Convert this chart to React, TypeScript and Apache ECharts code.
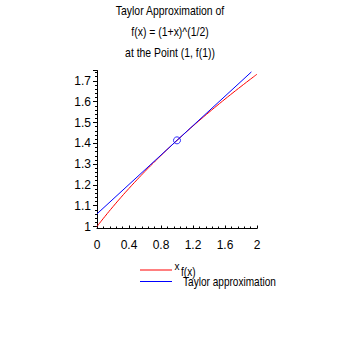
import React, { useEffect, useRef } from "react";
import * as echarts from "echarts";

const titleLines = ["Taylor Approximation of", "f(x) = (1+x)^(1/2)", "at the Point (1, f(1))"];
const curveX = [0, 0.1, 0.2, 0.3, 0.4, 0.5, 0.6, 0.7, 0.8, 0.9, 1, 1.1, 1.2, 1.3, 1.4, 1.5, 1.6, 1.7, 1.8, 1.9, 2];
const curveY = [1, 1.0488, 1.0954, 1.1402, 1.1832, 1.2247, 1.2649, 1.3038, 1.3416, 1.3784, 1.4142, 1.4491, 1.4832, 1.5166, 1.5492, 1.5811, 1.6125, 1.6432, 1.6733, 1.7029, 1.7321];
const tangentX = [0, 1, 1.93];
const tangentY = [1.0607, 1.4142, 1.7431];
const pointX = [1];
const pointY = [1.4142];
const legendNames = ["f(x)", "Taylor approximation"];
const xAxisName = "x";

const FONT = "'Liberation Sans', Arial, sans-serif";

export default function App() {
  const ref = useRef<HTMLDivElement>(null);
  useEffect(() => {
    if (!ref.current) return;
    const chart = echarts.init(ref.current, null, { renderer: "svg" });
    chart.setOption({
      animation: false,
      backgroundColor: "#ffffff",
      grid: { left: 97, right: 82, top: 70.5, bottom: 112.5 },
      xAxis: {
        type: "value",
        min: 0,
        max: 2,
        interval: 0.4,
        offset: 2,
        name: xAxisName,
        nameLocation: "middle",
        nameGap: 33,
        nameTextStyle: { color: "#000", fontFamily: FONT, fontSize: 10 },
        axisLine: { show: true, onZero: false, lineStyle: { color: "#000", width: 1 } },
        axisTick: { show: true, inside: true, length: 3, lineStyle: { color: "#000" } },
        minorTick: { show: true, splitNumber: 5, length: 2, lineStyle: { color: "#000" } },
        splitLine: { show: false },
        axisLabel: {
          color: "#000",
          fontFamily: FONT,
          fontSize: 12,
          margin: 10,
          formatter: (v: number) => String(Math.round(v * 10) / 10),
        },
      },
      yAxis: {
        type: "value",
        min: 1,
        max: 1.75,
        interval: 0.1,
        axisLine: { show: true, onZero: false, lineStyle: { color: "#000", width: 1 } },
        axisTick: { show: true, inside: false, length: 4, lineStyle: { color: "#000" } },
        minorTick: { show: true, splitNumber: 5, length: 2, lineStyle: { color: "#000" } },
        splitLine: { show: false },
        axisLabel: {
          color: "#000",
          fontFamily: FONT,
          fontSize: 12,
          margin: 6,
          showMaxLabel: false,
          formatter: (v: number) => (v > 1.72 ? "" : String(Math.round(v * 10) / 10)),
        },
      },
      series: [
        {
          name: legendNames[0],
          type: "line",
          data: curveX.map((x, i) => [x, curveY[i]]),
          showSymbol: false,
          smooth: true,
          lineStyle: { color: "#ff0000", width: 1 },
          itemStyle: { color: "#ff0000" },
          z: 2,
        },
        {
          name: legendNames[1],
          type: "line",
          data: tangentX.map((x, i) => [x, tangentY[i]]),
          showSymbol: false,
          lineStyle: { color: "#0000ff", width: 1 },
          itemStyle: { color: "#0000ff" },
          z: 3,
        },
        {
          type: "scatter",
          data: pointX.map((x, i) => [x, pointY[i]]),
          symbol: "circle",
          symbolSize: 7,
          itemStyle: { color: "rgba(0,0,0,0)", borderColor: "#0000ff", borderWidth: 1 },
          z: 4,
        },
      ],
      graphic: [
        ...titleLines.map((t, i) => ({
          type: "text",
          x: 170,
          y: 11 + i * 21,
          scaleX: 0.87,
          style: {
            text: t,
            fill: "#000",
            font: `12px ${FONT}`,
            textAlign: "center",
            textVerticalAlign: "middle",
          },
        })),
        { type: "line", shape: { x1: 140, y1: 270, x2: 172, y2: 270 }, style: { stroke: "#ff0000", lineWidth: 1 } },
        { type: "line", shape: { x1: 140, y1: 281.5, x2: 172, y2: 281.5 }, style: { stroke: "#0000ff", lineWidth: 1 } },
        {
          type: "text",
          x: 181,
          y: 272,
          scaleX: 0.84,
          style: { text: legendNames[0], fill: "#000", font: `12px ${FONT}`, textVerticalAlign: "middle" },
        },
        {
          type: "text",
          x: 183,
          y: 281.5,
          scaleX: 0.84,
          style: { text: legendNames[1], fill: "#000", font: `12px ${FONT}`, textVerticalAlign: "middle" },
        },
      ],
    });
    return () => chart.dispose();
  }, []);
  return <div ref={ref} style={{ width: 339, height: 339, position: "absolute", left: 0, top: 0 }} />;
}
